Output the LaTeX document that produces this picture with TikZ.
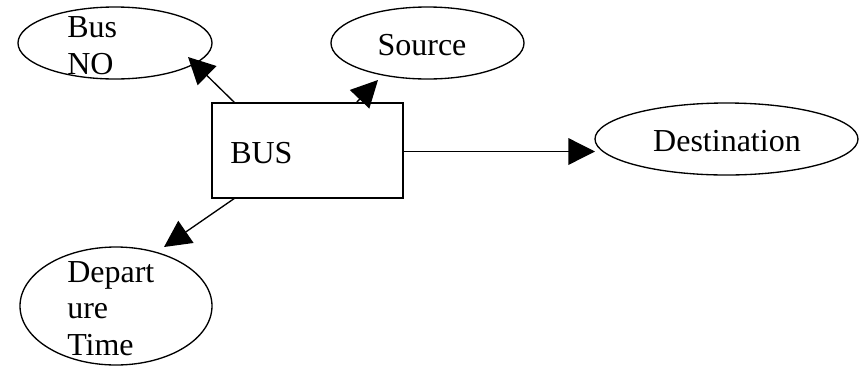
\documentclass[tikz,border=0pt]{standalone}
\usepackage{fontspec}
\setmainfont{Liberation Serif}
\usetikzlibrary{shapes.geometric,arrows.meta}
\begin{document}
\begin{tikzpicture}[x=0.75pt,y=-0.75pt,
  ent/.style={draw,ellipse,inner sep=0pt,line width=1pt},
  boxnode/.style={draw,rectangle,inner sep=0pt,line width=1pt},
  lbl/.style={inner sep=0pt,font=\fontsize{24pt}{27.5pt}\selectfont},
  arr/.style={line width=1pt,-{Triangle[length=20pt,width=20pt]}}]
\useasboundingbox (0,0) rectangle (865,369);
% shapes
\node[ent,minimum width=145.5pt,minimum height=54pt] (busno) at (115,43) {};
\node[ent,minimum width=144.75pt,minimum height=54pt] (source) at (427.5,43) {};
\node[ent,minimum width=197.25pt,minimum height=54pt] (dest) at (726.5,139) {};
\node[ent,minimum width=144pt,minimum height=88.5pt] (dep) at (116,306) {};
\node[boxnode,minimum width=143.25pt,minimum height=71.25pt] (bus) at (307.5,150.5) {};
% texts
\node[lbl,anchor=base west] (tbus) at (67,37) {Bus};
\node[lbl,anchor=base west] (tno) at (67,74) {NO};
\node[lbl,anchor=base] (tsrc) at (422,55) {Source};
\node[lbl,anchor=base] (tdest) at (727,151) {Destination};
\node[lbl,anchor=base west] (tBUS) at (230,163) {BUS};
\node[lbl,anchor=base west] (td1) at (67,282) {Depart};
\node[lbl,anchor=base west] (td2) at (67,318) {ure};
\node[lbl,anchor=base west] (td3) at (67,355) {Time};
% connector ends
\coordinate (a1) at (235,103);
\coordinate (b1) at (188,57);
\coordinate (a2) at (356,103);
\coordinate (b2) at (378,80);
\coordinate (a3) at (235,198);
\coordinate (b3) at (164,247);
\coordinate (a4) at (403,151.5);
\coordinate (b4) at (595,151.5);
% connectors
\draw[arr] (a1) -- (b1);
\draw[arr] (a2) -- (b2);
\draw[arr] (a3) -- (b3);
\draw[arr] (a4) -- (b4);
\end{tikzpicture}
\end{document}
